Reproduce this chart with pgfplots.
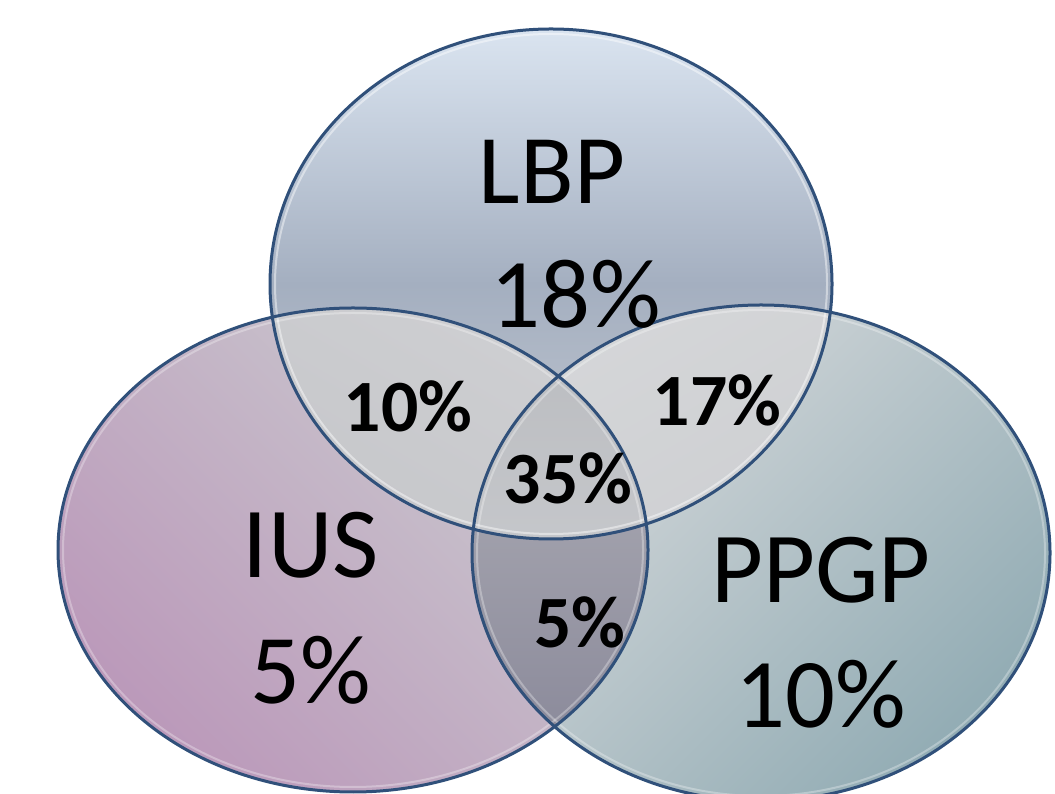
\documentclass[border=0pt]{standalone}
\usepackage{pgfplots}
\pgfplotsset{compat=1.18}
\usepackage{fontspec}
\setmainfont{Carlito}
\definecolor{edge}{HTML}{30507A}
\definecolor{topA}{HTML}{DAE4F0}
\definecolor{topB}{HTML}{A4AFC0}
\definecolor{topC}{HTML}{C8CCD3}
\definecolor{leftPink}{HTML}{BB99BA}
\definecolor{leftGrey}{HTML}{CBCCD0}
\definecolor{rightGrey}{HTML}{D9DBDD}
\definecolor{rightTeal}{HTML}{92ACB4}
\definecolor{ovTL}{HTML}{BDBEC2}
\definecolor{ovTR}{HTML}{C6C8CB}
\definecolor{ovLRa}{HTML}{B6B6BC}
\definecolor{ovLRb}{HTML}{858496}
\definecolor{ovC}{HTML}{D2D4D8}
\begin{document}
\begin{tikzpicture}
\useasboundingbox (0,0) rectangle (1055bp,794bp);
\begin{axis}[
  at={(0,0)}, anchor=south west,
  width=1055bp, height=794bp, scale only axis,
  xmin=0, xmax=1055, ymin=0, ymax=794,
  hide axis, clip=true,
]
% ellipse centres (x, y) and radii, image y flipped
% top  (LBP):  551, 510, 281, 255
% left (IUS):  353, 244, 295, 242
% right(PPGP): 761, 241, 289, 248
\fill[top color=topA, bottom color=topC, middle color=topB] (axis cs:551,510) ellipse [x radius=281, y radius=255];
\fill[top color=leftGrey, bottom color=leftPink, shading angle=-45] (axis cs:353,244) ellipse [x radius=295, y radius=242];
\fill[top color=rightGrey, bottom color=rightTeal, shading angle=45] (axis cs:761,241) ellipse [x radius=289, y radius=248];
% overlaps
\begin{scope}
\clip (axis cs:551,510) ellipse [x radius=281, y radius=255];
\fill[top color=ovTL!75!white, bottom color=ovTL, shading angle=-30] (axis cs:353,244) ellipse [x radius=295, y radius=242];
\fill[top color=ovTR!75!white, bottom color=ovTR, shading angle=30] (axis cs:761,241) ellipse [x radius=289, y radius=248];
\end{scope}
\begin{scope}
\clip (axis cs:353,244) ellipse [x radius=295, y radius=242];
\fill[top color=ovLRa, bottom color=ovLRb] (axis cs:761,241) ellipse [x radius=289, y radius=248];
\end{scope}
\begin{scope}
\clip (axis cs:551,510) ellipse [x radius=281, y radius=255];
\clip (axis cs:353,244) ellipse [x radius=295, y radius=242];
\fill[top color=ovC!88!black, bottom color=ovC] (axis cs:761,241) ellipse [x radius=289, y radius=248];
\end{scope}
% glossy inner rims
\draw[white, opacity=0.45, line width=2bp] (axis cs:551,510) ellipse [x radius=276, y radius=250];
\draw[white, opacity=0.3, line width=2bp] (axis cs:353,244) ellipse [x radius=290, y radius=237];
\draw[white, opacity=0.3, line width=2bp] (axis cs:761,241) ellipse [x radius=284, y radius=243];
% outlines
\draw[edge, line width=3bp] (axis cs:551,510) ellipse [x radius=281, y radius=255];
\draw[edge, line width=3bp] (axis cs:353,244) ellipse [x radius=295, y radius=242];
\draw[edge, line width=3bp] (axis cs:761,241) ellipse [x radius=289, y radius=248];
% labels
\node[font=\fontsize{99}{115}\selectfont] at (axis cs:552,622) {LBP};
\node[font=\fontsize{99}{115}\selectfont] at (axis cs:576,500) {18\%};
\node[font=\fontsize{101}{115}\selectfont] at (axis cs:311,249) {IUS};
\node[font=\fontsize{99}{115}\selectfont] at (axis cs:311,124) {5\%};
\node[font=\fontsize{101}{115}\selectfont] at (axis cs:821,224) {PPGP};
\node[font=\fontsize{99}{115}\selectfont] at (axis cs:821,100) {10\%};
\node[font=\fontsize{74}{86}\selectfont\bfseries] at (axis cs:408,388) {10\%};
\node[font=\fontsize{74}{86}\selectfont\bfseries] at (axis cs:717,394) {17\%};
\node[font=\fontsize{74}{86}\selectfont\bfseries] at (axis cs:568,316) {35\%};
\node[font=\fontsize{74}{86}\selectfont\bfseries] at (axis cs:580,172) {5\%};
\end{axis}
\end{tikzpicture}
\end{document}
